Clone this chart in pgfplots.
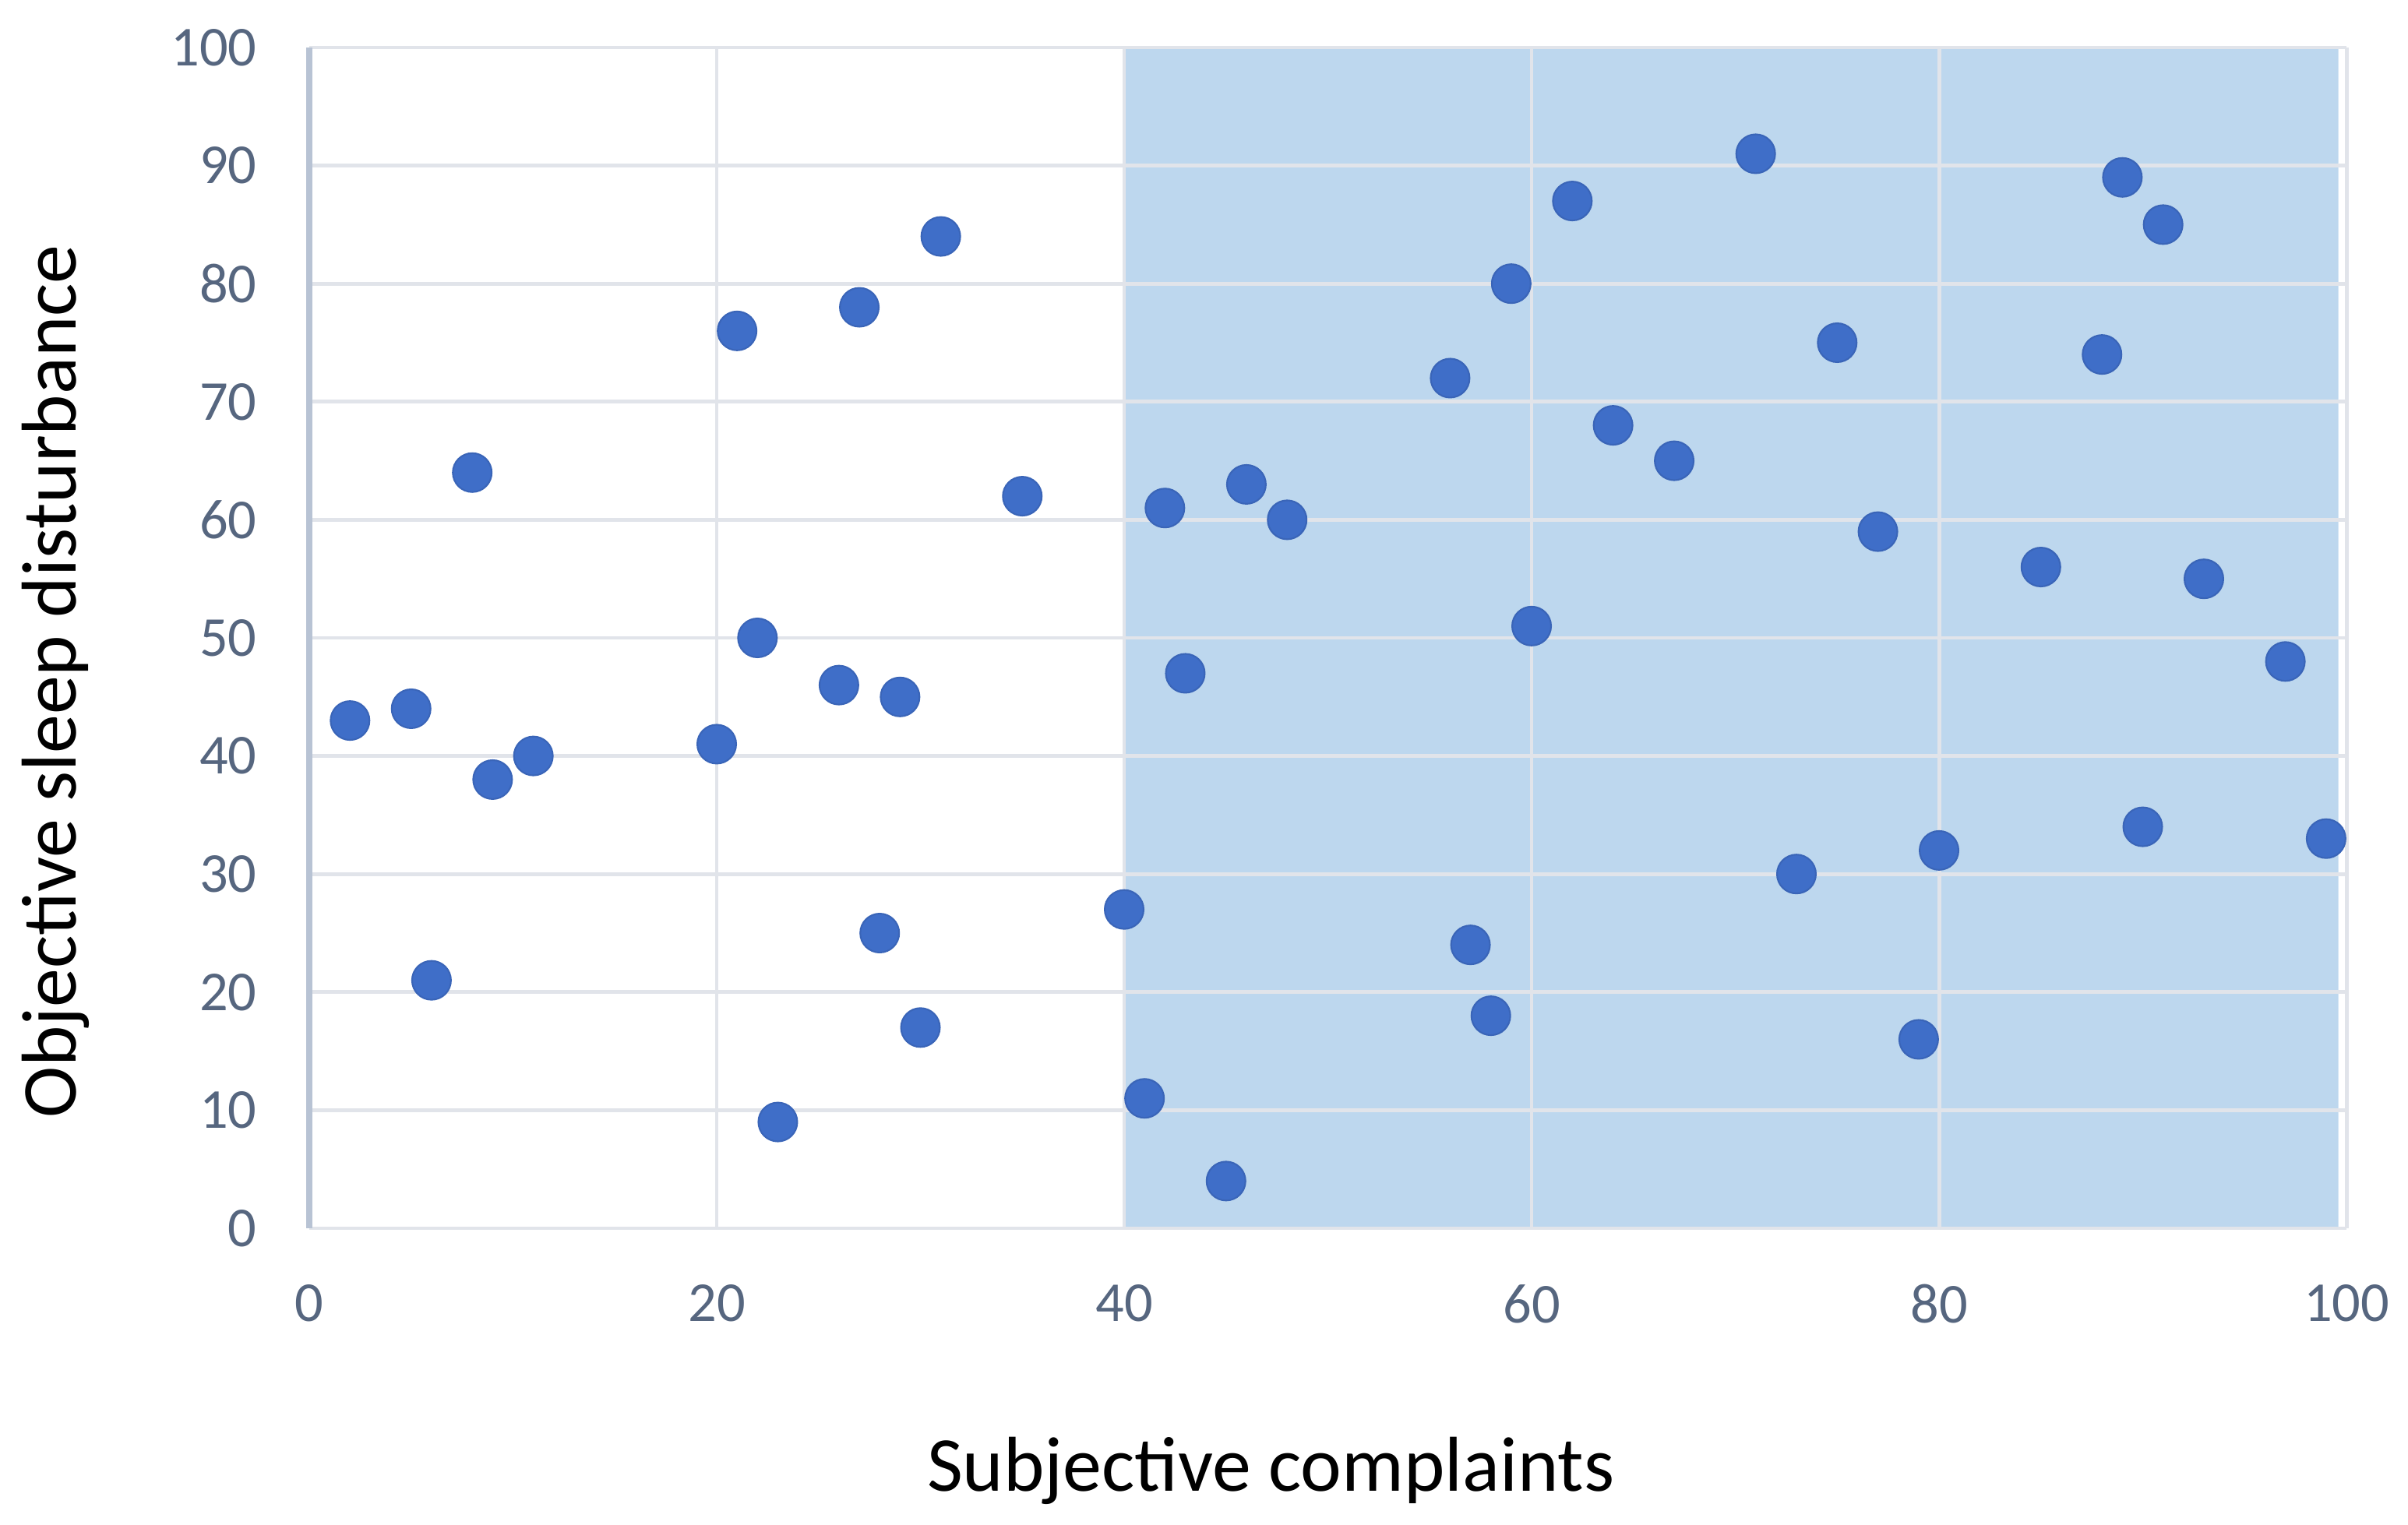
\documentclass[border=0pt]{standalone}
\usepackage{fontspec}
\setmainfont{Carlito}
\usepackage{pgfplots}
\pgfplotsset{compat=1.18}
\definecolor{shade}{HTML}{BDD7EE}
\definecolor{gridc}{HTML}{E1E4EA}
\definecolor{ylinec}{HTML}{B8C3D4}
\definecolor{tickc}{HTML}{56667F}
\definecolor{dotc}{HTML}{3F6EC8}

\begin{document}
\begin{tikzpicture}
\begin{axis}[
  set layers,
  scale only axis,
  width=13.075cm, height=7.58cm,
  xmin=0, xmax=100, ymin=0, ymax=100,
  xtick={0,20,...,100},
  ytick={0,10,...,100},
  major tick length=0pt,
  grid=major,
  grid style={draw=gridc, line width=0.7pt},
  axis x line*=bottom,
  axis y line*=left,
  x axis line style={draw=gridc, line width=0.7pt, -},
  y axis line style={draw=ylinec, line width=1pt, -},
  /pgf/number format/assume math mode=true,
  ticklabel style={font=\fontsize{10.3}{12}\selectfont, text=tickc, inner sep=0pt},
  yticklabel style={anchor=east, xshift=-0.33cm},
  xticklabel style={anchor=north, yshift=-0.355cm},
  xlabel={Subjective complaints},
  ylabel={Objective sleep disturbance},
  xlabel style={font=\fontsize{14.2}{16}\selectfont, at={(axis description cs:0.472,-0.2051)}, anchor=center},
  ylabel style={font=\fontsize{14.2}{16}\selectfont, at={(axis description cs:-0.1247,0.463)}, anchor=center},
  clip=false,
]

% shaded region
\addplot[on layer=axis background, fill=shade, draw=none] coordinates {
  (40,0) (99.6,0) (99.6,100) (40,100) (40,0)
};

% observations
\addplot[only marks, mark=*, mark size=3.55pt, mark options={fill=dotc, draw=dotc!92!black, line width=0.3pt}] coordinates {
  (2,43) (5,44) (6,21) (8,64) (9,38) (11,40)
  (20,41) (21,76) (22,50) (23,9) (26,46) (27,78)
  (28,25) (29,45) (30,17) (31,84) (35,62)
  (40,27) (41,11) (42,61) (43,47) (45,4) (46,63) (48,60)
  (56,72) (57,24) (58,18) (59,80) (60,51) (62,87)
  (64,68) (67,65) (71,91) (73,30) (75,75) (77,59)
  (79,16) (80,32) (85,56) (88,74) (89,89) (90,34)
  (91,85) (93,55) (97,48) (99,33)
};
\end{axis}
\pgfresetboundingbox
\path[use as bounding box] (-1.985cm,-1.9cm) rectangle (13.47cm,7.885cm);
\end{tikzpicture}
\end{document}
